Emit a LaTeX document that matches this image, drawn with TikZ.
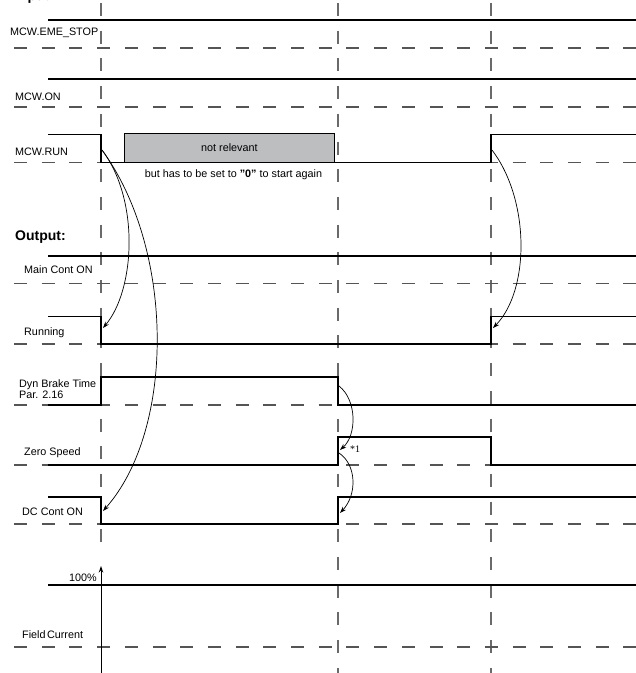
\documentclass[tikz,border=0pt]{standalone}
\usepackage{fontspec}
\setmainfont{Liberation Sans}
\newfontfamily\notefont{Liberation Serif}
\usetikzlibrary{arrows.meta}
\definecolor{boxgray}{HTML}{BCBEC0}
\definecolor{gridgray}{HTML}{6A6A6A}
\definecolor{basegray}{HTML}{555555}
\begin{document}
\begin{tikzpicture}[x=1pt, y=-1pt, >={Stealth[length=6.5pt,width=4.5pt]},
  sig/.style={line width=1.7pt, line join=miter},
  base/.style={basegray, line width=1.2pt, dash pattern=on 13pt off 14.7pt},
  grid/.style={gridgray, line width=1.2pt, dash pattern=on 13pt off 14.7pt},
  lbl/.style={inner sep=0pt, anchor=base west, font=\fontsize{10.8}{12}\selectfont},
  edge/.style={->, line width=0.7pt}]
\useasboundingbox (0,0) rectangle (636,673);
\draw[grid] (101,3) -- (101,556);
\draw[grid] (338,3) -- (338,673);
\draw[grid] (491,3) -- (491,673);
\foreach \y in {48,107,162.5,283.5,344,405,465,524,647}
  \draw[base] (14,\y) -- (636,\y);
\node[inner sep=0pt, anchor=base west, font=\bfseries\fontsize{14}{16}\selectfont] (inputs) at (15,0.5) {Input:};
\node[lbl] (estop) at (10,35.5) {MCW.EME\_STOP};
\node[lbl] (mcwon) at (15,100) {MCW.ON};
\node[lbl] (mcwrun) at (15,155) {MCW.RUN};
\node[draw, line width=0.9pt, fill=boxgray, minimum width=210pt, minimum height=28.5pt, anchor=south west, font=\fontsize{10.8}{12}\selectfont] (notrel) at (124,162.5) {not relevant};
\node[lbl, anchor=base] (resetnote) at (233.5,177) {but has to be set to \textbf{"0"} to start again};
\node[inner sep=0pt, anchor=base west, font=\bfseries\fontsize{14}{16}\selectfont] (output) at (15,240) {Output:};
\node[lbl] (maincont) at (24,273.5) {Main Cont ON};
\node[lbl] (running) at (24,335) {Running};
\node[lbl, align=left, anchor=north west] (dynbrake) at (19,379.5) {Dyn Brake Time\\[-1.2pt]Par. 2.16};
\node[lbl] (zerospeed) at (24,455) {Zero Speed};
\node[lbl] (dccont) at (22,515.5) {DC Cont ON};
\node[lbl, anchor=base east] (full) at (97,581.5) {100\%};
\node[lbl] (fieldcur) at (22,638) {Field\kern1.5pt Current};
\node[inner sep=0pt, anchor=base west, font=\notefont\fontsize{10}{12}\selectfont] (note1) at (350,452) {*1};
\draw[sig] (48,20) -- (636,20);
\draw[sig] (48,79) -- (636,79);
\draw[sig] (48,134.5) -- (101,134.5) -- (101,162.5) -- (491,162.5) -- (491,134.5) -- (636,134.5);
\draw[sig] (48,256) -- (636,256);
\draw[sig] (48,316.5) -- (101,316.5) -- (101,344) -- (491,344) -- (491,316.5) -- (636,316.5);
\draw[sig] (48,405) -- (101,405) -- (101,377) -- (338,377) -- (338,405) -- (636,405);
\draw[sig] (48,465) -- (338,465) -- (338,437) -- (491,437) -- (491,465) -- (636,465);
\draw[sig] (48,497) -- (101,497) -- (101,524) -- (338,524) -- (338,497) -- (636,497);
\draw[sig] (48,585) -- (636,585);
\coordinate (runfall) at (102,150);
\coordinate (runrise) at (492,150);
\coordinate (runningfall) at (103,328);
\coordinate (runningrise) at (493,328);
\coordinate (dcfall) at (103,511);
\coordinate (dynfall) at (339,386);
\coordinate (zsrise) at (340,450);
\coordinate (zsstart) at (339,453);
\coordinate (dcrise) at (340,513);
\coordinate (fieldbot) at (101,673);
\coordinate (fieldtop) at (101,566);
\draw[edge] (runfall) .. controls (140,200) and (135,290) .. (runningfall);
\draw[edge] (runfall) .. controls (175,250) and (175,430) .. (dcfall);
\draw[edge] (runrise) .. controls (530,200) and (530,290) .. (runningrise);
\draw[edge] (dynfall) .. controls (357,400) and (357,435) .. (zsrise);
\draw[edge] (zsstart) .. controls (357,465) and (357,495) .. (dcrise);
\draw[->, line width=1pt] (fieldbot) -- (fieldtop);
\end{tikzpicture}
\end{document}
